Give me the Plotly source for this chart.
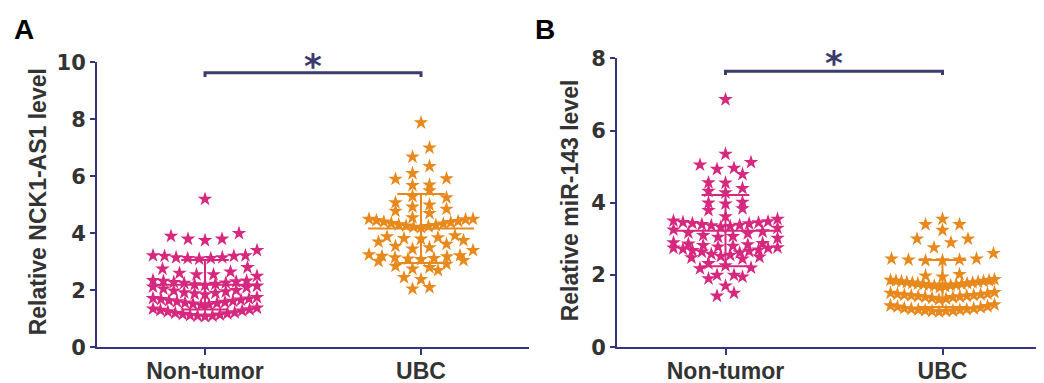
import math
import plotly.graph_objects as go

# ---------------- data ----------------
categories = ["Non-tumor", "UBC"]

nck1_nontumor = [5.2,
                 4.0, 3.8, 3.75, 3.8, 3.9,
                 3.4,
                 3.22, 3.2, 3.15, 3.12, 3.1, 3.12, 3.15, 3.2, 3.22,
                 2.8, 2.75, 2.65, 2.6, 2.55,
                 2.5, 2.55,
                 2.35, 2.33, 2.32, 2.3, 2.28, 2.26, 2.25, 2.22, 2.2, 2.18, 2.15,
                 2.12, 2.1, 2.05, 2.0, 1.98, 1.95, 1.92, 1.9, 1.88, 1.85,
                 1.75, 1.72, 1.7, 1.68, 1.66, 1.64, 1.62, 1.6, 1.58, 1.56, 1.54,
                 1.52, 1.5, 1.48,
                 1.38, 1.35, 1.32, 1.3, 1.28, 1.25, 1.22, 1.2, 1.18, 1.16, 1.14,
                 1.12, 1.1, 1.1, 1.08]

nck1_ubc = [7.88, 7.0, 6.68, 6.35, 6.1, 5.92, 5.9, 5.7, 5.68, 5.5, 5.3, 5.25,
            5.08, 5.0, 4.93, 4.85, 4.78, 4.7, 4.55, 4.5,
            4.5, 4.48, 4.45, 4.42, 4.4, 4.38, 4.35, 4.33, 4.3, 4.28, 4.26,
            4.24, 4.22, 4.2,
            3.92, 3.88, 3.85, 3.82, 3.8, 3.75, 3.7,
            3.62, 3.55, 3.5, 3.45, 3.4,
            3.25, 3.22, 3.2, 3.18, 3.15, 3.12, 3.1, 3.08, 3.05, 3.02,
            2.92, 2.85, 2.8, 2.75, 2.7,
            2.45, 2.38, 2.1, 2.05]

mir_nontumor = [6.86, 5.35, 5.12, 5.05, 4.96, 4.93, 4.79, 4.56, 4.55, 4.4,
                4.32, 4.28, 4.02, 4.0, 3.97, 3.84, 3.79, 3.62, 3.55,
                3.5, 3.48, 3.46, 3.45, 3.43, 3.42, 3.4, 3.38, 3.37, 3.35,
                3.33, 3.3,
                3.25, 3.2, 3.17, 3.15, 3.1, 3.07, 3.05, 3.02,
                2.9, 2.88, 2.86, 2.84, 2.82, 2.8, 2.78, 2.76, 2.75, 2.74,
                2.72, 2.7, 2.68, 2.66, 2.64, 2.62,
                2.58, 2.55, 2.52, 2.5, 2.48, 2.45,
                2.32, 2.26, 2.2, 2.18, 2.0, 1.95, 1.9, 2.0, 1.7, 1.5, 1.42]

mir_ubc = [3.55, 3.4, 3.4, 3.24, 3.0, 3.0, 2.9, 2.76, 2.6,
           2.45, 2.42, 2.4, 2.4, 2.42, 2.45,
           2.02, 1.98, 1.95,
           1.88, 1.86, 1.85, 1.84, 1.83, 1.82, 1.81, 1.8, 1.79, 1.78,
           1.77, 1.76, 1.75, 1.74, 1.73, 1.72, 1.71, 1.7, 1.68, 1.66,
           1.52, 1.5, 1.48, 1.47, 1.46, 1.45, 1.44, 1.43, 1.42, 1.41,
           1.4, 1.39, 1.38, 1.36, 1.34, 1.32,
           1.18, 1.15, 1.13, 1.12, 1.1, 1.08, 1.07, 1.06, 1.05, 1.04,
           1.03, 1.02, 1.01, 1.0, 1.0, 0.98]

y_titles = ["Relative NCK1-AS1 level", "Relative miR-143 level"]
panel_labels = ["A", "B"]
sig_text = "*"

# ---------------- style / layout constants ----------------
W, H = 1044, 383
PINK = "#D6287F"
ORANGE = "#E8891D"
AXIS = "#34347F"
BAR = "#3B3B6E"
TICKCOL = "#333333"

# mapping from wanted on-screen pixel to layout pixel (page offset compensation)
OX, OY, KY = 8.0, 18.4, 0.944


def lx(r):
    return r - OX


def ly(r):
    return (r - OY) / KY


def px_x(r):
    return lx(r) / W


def py_(r):
    return 1 - ly(r) / H


# panel A
xdomA = [px_x(97), px_x(529)]
ydomA = [py_(348), py_(61)]
xrngA = [-0.5, 1.5]
yrngA = [0, 10]
# panel B
xdomB = [px_x(617), 1.0]
ydomB = [py_(348), py_(57)]
xrngB = [-0.5, -0.5 + (W - lx(617)) / 217.0]
yrngB = [0, 8]


def px_scale(dom, rng, total):
    return (dom[1] - dom[0]) * total / (rng[1] - rng[0])


def row_scatter(vals, center, sx, sy, row_px=10.0, max_sp=17.0, max_w=104.0):
    """Prism-like scatter: bin values into rows, spread each row around the centre,
    lowest value in the middle, rising values alternating outward."""
    n = len(vals)
    order = sorted(range(n), key=lambda i: vals[i])
    hb = row_px / sy
    rows, cur, start = [], [], None
    for i in order:
        if start is None or vals[i] - start > hb:
            if cur:
                rows.append(cur)
            cur, start = [i], vals[i]
        else:
            cur.append(i)
    if cur:
        rows.append(cur)
    xs = [float(center)] * n
    for r in rows:
        k = len(r)
        if k == 1:
            continue
        sp = min(max_sp, max_w / (k - 1))
        # slot offsets: centred set of k slots
        slots = [(j - (k - 1) / 2.0) * sp for j in range(k)]
        slots.sort(key=lambda s: (abs(s), s))
        for j, idx in enumerate(r):
            s = slots[j]
            if j % 2 == 1 and k % 2 == 0:
                s = slots[j]
            xs[idx] = center + s / sx
    return xs


def mean_sd(v):
    m = sum(v) / len(v)
    s = math.sqrt(sum((a - m) ** 2 for a in v) / (len(v) - 1))
    return m, s


fig = go.Figure()

panels = [
    dict(xa="x", ya="y", groups=[nck1_nontumor, nck1_ubc], xd=xdomA, yd=ydomA,
         xr=xrngA, yr=yrngA, bar_y=9.63, bar_drop=0.15, star_y=10.0),
    dict(xa="x2", ya="y2", groups=[mir_nontumor, mir_ubc], xd=xdomB, yd=ydomB,
         xr=xrngB, yr=yrngB, bar_y=7.64, bar_drop=0.1, star_y=7.97),
]

colors = [PINK, ORANGE]
for p in panels:
    sx = px_scale(p["xd"], p["xr"], W)
    sy = px_scale(p["yd"], p["yr"], H)
    for gi, vals in enumerate(p["groups"]):
        xs = row_scatter(vals, gi, sx, sy)
        fig.add_trace(go.Scatter(
            x=xs, y=vals, mode="markers", xaxis=p["xa"], yaxis=p["ya"],
            marker=dict(symbol="star", size=11, color=colors[gi], line=dict(width=0)),
            showlegend=False, hoverinfo="y"))
        m, s = mean_sd(vals)
        mw, cw = 0.245, 0.11
        fig.add_trace(go.Scatter(
            x=[gi - mw, gi + mw, None, gi, gi, None, gi - cw, gi + cw, None, gi - cw, gi + cw],
            y=[m, m, None, m - s, m + s, None, m + s, m + s, None, m - s, m - s],
            mode="lines", xaxis=p["xa"], yaxis=p["ya"],
            line=dict(color=colors[gi], width=2), showlegend=False, hoverinfo="skip"))
    fig.add_trace(go.Scatter(
        x=[0, 0, 1, 1],
        y=[p["bar_y"] - p["bar_drop"], p["bar_y"], p["bar_y"], p["bar_y"] - p["bar_drop"]],
        mode="lines", xaxis=p["xa"], yaxis=p["ya"], cliponaxis=False,
        line=dict(color=BAR, width=3), showlegend=False, hoverinfo="skip"))

axis_common = dict(showgrid=False, zeroline=False, showline=True, linecolor=AXIS,
                   linewidth=2, ticks="outside", tickcolor=AXIS, tickwidth=2)

xt_font = dict(family="Liberation Sans, Arial", size=23, color=TICKCOL, weight="bold")
yt_font = dict(family="DejaVu Sans", size=21, color=TICKCOL, weight="bold")

fig.update_layout(
    width=W, height=H, margin=dict(l=0, r=0, t=0, b=0),
    paper_bgcolor="white", plot_bgcolor="white",
    xaxis=dict(domain=xdomA, range=xrngA, tickvals=[0, 1], ticktext=categories,
               ticklen=6, ticklabelstandoff=-4, tickfont=xt_font, anchor="y", **axis_common),
    yaxis=dict(domain=ydomA, range=yrngA, tickvals=[0, 2, 4, 6, 8, 10], ticklen=5,
               tickfont=yt_font, anchor="x", **axis_common),
    xaxis2=dict(domain=xdomB, range=xrngB, tickvals=[0, 1], ticktext=categories,
                ticklen=6, ticklabelstandoff=-4, tickfont=xt_font, anchor="y2", **axis_common),
    yaxis2=dict(domain=ydomB, range=yrngB, tickvals=[0, 2, 4, 6, 8], ticklen=5,
                tickfont=yt_font, anchor="x2", **axis_common),
)

title_font = dict(family="Liberation Sans, Arial", size=23, color=TICKCOL, weight="bold")
ann = []
ann.append(dict(text=y_titles[0], textangle=-90, xref="paper", yref="paper",
                x=px_x(38), y=py_(202), xanchor="center", yanchor="middle",
                showarrow=False, font=title_font))
ann.append(dict(text=y_titles[1], textangle=-90, xref="paper", yref="paper",
                x=px_x(570), y=py_(200), xanchor="center", yanchor="middle",
                showarrow=False, font=title_font))
letter_font = dict(family="Liberation Sans, Arial", size=28, color="black", weight="bold")
ann.append(dict(text=panel_labels[0], xref="paper", yref="paper", x=px_x(12), y=1 - 10 / H,
                xanchor="left", yanchor="middle", showarrow=False, font=letter_font))
ann.append(dict(text=panel_labels[1], xref="paper", yref="paper", x=px_x(533), y=1 - 10 / H,
                xanchor="left", yanchor="middle", showarrow=False, font=letter_font))
star_font = dict(family="DejaVu Sans", size=34, color=BAR, weight="bold")
for p in panels:
    ann.append(dict(text=sig_text, xref=p["xa"], yref=p["ya"], x=0.5, y=p["star_y"],
                    xanchor="center", yanchor="middle", yshift=-4, showarrow=False,
                    font=star_font))
fig.update_layout(annotations=ann)

fig.write_html("out.html")
